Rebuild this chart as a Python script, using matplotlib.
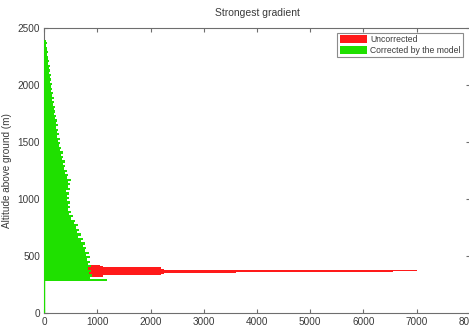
import matplotlib
matplotlib.use("Agg")
import matplotlib.pyplot as plt
from matplotlib.patches import Patch

# ---- data ----
green_alt = [290, 310, 330, 350, 370, 390, 410, 430, 450, 470, 490, 510, 530, 550, 570,
             590, 610, 630, 650, 670, 690, 710, 730, 750, 770, 790, 810, 830, 850, 870,
             890, 910, 930, 950, 970, 990, 1010, 1030, 1050, 1070, 1090, 1110, 1130, 1150,
             1170, 1190, 1210, 1230, 1250, 1270, 1290, 1310, 1330, 1350, 1370, 1390, 1410,
             1430, 1450, 1470, 1490, 1510, 1530, 1550, 1570, 1590, 1610, 1630, 1650, 1670,
             1690, 1710, 1730, 1750, 1770, 1790, 1810, 1830, 1850, 1870, 1890, 1910, 1930,
             1950, 1970, 1990, 2010, 2030, 2050, 2070, 2090, 2110, 2130, 2150, 2170, 2190,
             2210, 2230, 2250, 2270, 2290, 2310, 2330, 2350, 2370, 2390]
green_val = [1175, 850, 890, 835, 870, 820, 875, 815, 860, 800, 855, 790, 840, 760, 790,
             720, 760, 690, 720, 640, 690, 620, 660, 600, 630, 560, 580, 505, 540, 470,
             500, 440, 485, 445, 480, 420, 470, 430, 465, 415, 475, 440, 485, 450,
             495, 430, 440, 385, 420, 370, 395, 345, 380, 330, 360, 310, 345,
             290, 320, 275, 300, 260, 290, 245, 275, 235, 265, 220, 250, 215,
             235, 195, 225, 185, 210, 175, 200, 160, 185, 150, 175, 140, 160,
             130, 150, 120, 140, 110, 130, 100, 118, 90, 108, 82, 98, 72,
             85, 65, 78, 55, 68, 45, 55, 38, 42, 28]

red_alt = [325, 335, 345, 355, 365, 375, 385, 395, 405, 415]
red_val = [1100, 2200, 2250, 3600, 6550, 7000, 2250, 2200, 1100, 1050]

x_ticks = [0, 1000, 2000, 3000, 4000, 5000, 6000, 7000, 8000]
y_ticks = [0, 500, 1000, 1500, 2000, 2500]

RED = "#ff1a1a"
GREEN = "#1fe000"
SPINE = "#6e6e6e"
TXT = "#3a3a3a"

plt.rcParams["font.family"] = ["Liberation Sans", "DejaVu Sans"]

fig = plt.figure(figsize=(4.69, 3.32), dpi=100)
ax = fig.add_axes([44.3 / 469, 19 / 332, 425.5 / 469, 284.7 / 332])

ax.barh(red_alt, red_val, height=10, color=RED, linewidth=0, zorder=2)
ax.barh(green_alt, green_val, height=20, color=GREEN, linewidth=0, zorder=3)
ax.axvline(0, ymin=0, ymax=280 / 2500, color=GREEN, linewidth=1.0, zorder=4)

ax.set_xlim(0, 8000)
ax.set_ylim(0, 2500)
ax.set_xticks(x_ticks)
ax.set_yticks(y_ticks)
ax.tick_params(direction="in", length=3, width=0.8, colors=SPINE, labelcolor=TXT,
               labelsize=7.2, top=True, right=True, pad=3)
for s in ax.spines.values():
    s.set_color(SPINE)
    s.set_linewidth(0.8)

ax.set_title("Strongest gradient", fontsize=7.5, color=TXT, pad=9)
ax.set_ylabel("Altitude above ground (m)", fontsize=7.2, color=TXT, labelpad=4)

handles = [Patch(facecolor=RED, edgecolor="none", label="Uncorrected"),
           Patch(facecolor=GREEN, edgecolor="none", label="Corrected by the model")]
leg = ax.legend(handles=handles, loc="upper right", bbox_to_anchor=(0.984, 0.985),
                fontsize=6.2, frameon=True, fancybox=False, borderpad=0.3,
                handlelength=3.2, handleheight=1.1, handletextpad=0.3,
                labelspacing=0.15, borderaxespad=0)
leg.get_frame().set_edgecolor(SPINE)
leg.get_frame().set_linewidth(0.8)
for t in leg.get_texts():
    t.set_color(TXT)

fig.savefig("out.png", dpi=100)
